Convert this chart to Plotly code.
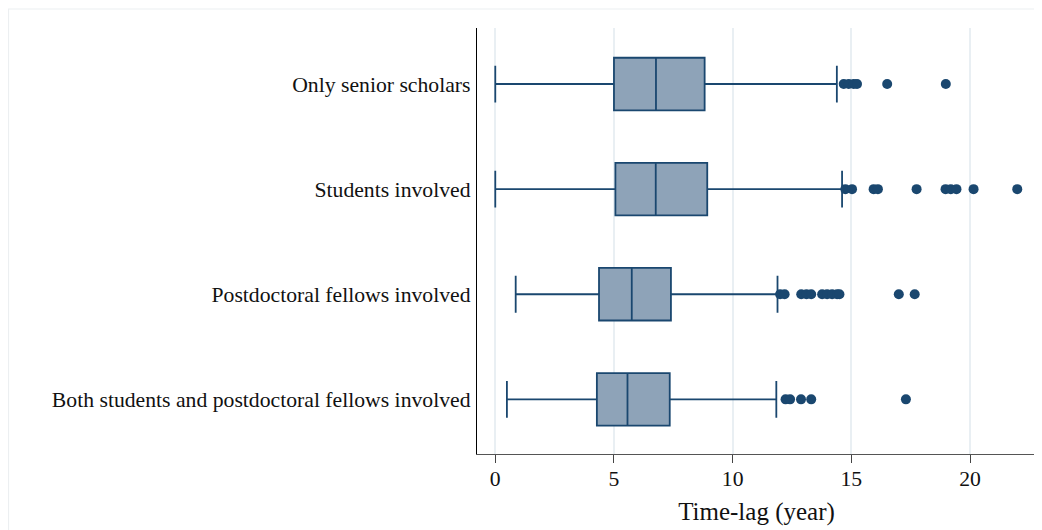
import plotly.graph_objects as go

# ---- data ----
categories = [
    "Only senior scholars",
    "Students involved",
    "Postdoctoral fellows involved",
    "Both students and postdoctoral fellows involved",
]
lower_whisker = [0.0, 0.0, 0.86, 0.49]
q1_values = [5.0, 5.06, 4.37, 4.28]
median_values = [6.77, 6.76, 5.75, 5.57]
q3_values = [8.82, 8.93, 7.40, 7.35]
upper_whisker = [14.39, 14.61, 11.89, 11.84]

outliers_senior = [14.68, 14.89, 15.1, 15.24, 16.51, 18.98]
outliers_students = [14.75, 15.03, 15.94, 16.12, 17.75, 18.97, 19.19, 19.43, 20.15, 21.99]
outliers_postdoc = [12.0, 12.19, 12.89, 13.11, 13.31, 13.77, 13.98, 14.19, 14.4, 14.5, 17.0, 17.67]
outliers_both = [12.23, 12.42, 12.88, 13.31, 17.3]
outlier_lists = [outliers_senior, outliers_students, outliers_postdoc, outliers_both]

x_ticks = [0, 5, 10, 15, 20]
x_title = "Time-lag (year)"

# ---- style ----
LINE = "#1a476f"
FILL = "#8ea3b8"
FONT = "Liberation Serif"
TXT = "#111111"

fig = go.Figure()

for i, cat in enumerate(categories):
    fig.add_trace(go.Box(
        y=[cat],
        q1=[q1_values[i]],
        median=[median_values[i]],
        q3=[q3_values[i]],
        lowerfence=[lower_whisker[i]],
        upperfence=[upper_whisker[i]],
        orientation="h",
        boxpoints=False,
        fillcolor=FILL,
        line=dict(color=LINE, width=1.8),
        whiskerwidth=0.7,
        width=0.5,
        showlegend=False,
        hoverinfo="skip",
    ))

ox, oy = [], []
for cat, vals in zip(categories, outlier_lists):
    ox.extend(vals)
    oy.extend([cat] * len(vals))
fig.add_trace(go.Scatter(
    x=ox, y=oy, mode="markers",
    marker=dict(color=LINE, size=10, line=dict(width=0)),
    showlegend=False, hoverinfo="skip",
))

# page body adds an 8px offset; size the figure to fill the rest of the window
W, H = 1034, 522
ml, mr, mt, mb = 469, 6, 20, 76
pw = W - ml - mr
ph = H - mt - mb

fig.update_layout(
    width=W, height=H,
    margin=dict(l=ml, r=mr, t=mt, b=mb),
    paper_bgcolor="white",
    plot_bgcolor="white",
    font=dict(family=FONT, color=TXT, size=21.7),
    boxmode="overlay",
    shapes=[dict(
        type="rect", xref="paper", yref="paper",
        x0=(0.5 - ml) / pw, x1=(W + 20 - ml) / pw,
        y0=-(H + 20 - mt - ph) / ph, y1=(mt + ph - 1) / ph,
        line=dict(color="#eceff1", width=1.2), fillcolor="rgba(0,0,0,0)",
        layer="below",
    )],
)

fig.update_xaxes(
    range=[-0.77, 22.78],
    tickvals=x_ticks,
    ticks="outside", ticklen=8, tickwidth=1.2, tickcolor="#444444",
    showline=True, linecolor="#555555", linewidth=1.3,
    showgrid=True, gridcolor="#e9eff3", gridwidth=1.5,
    zeroline=False,
    ticklabelstandoff=-3,
    tickfont=dict(size=21.7, family=FONT, color=TXT),
    title=dict(text=x_title, font=dict(size=25, family=FONT, color=TXT), standoff=12),
)

fig.update_yaxes(
    type="category",
    categoryorder="array",
    categoryarray=categories[::-1],
    range=[-0.52, 3.533],
    ticks="",
    showline=True, linecolor="#000000", linewidth=1.3,
    showgrid=False, zeroline=False,
    ticklabelstandoff=1,
    tickfont=dict(size=21.7, family=FONT, color=TXT),
)

fig.write_html("out.html")
